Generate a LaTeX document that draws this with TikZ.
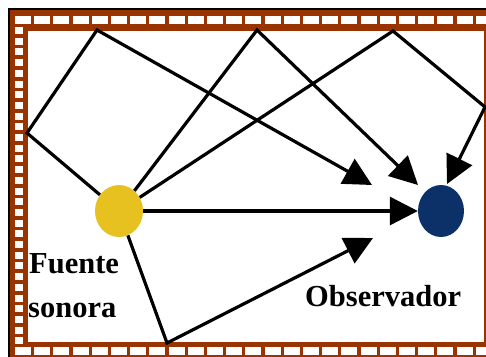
\documentclass[tikz,border=0pt]{standalone}
\usepackage{fontspec}
\setmainfont{Liberation Serif}
\usetikzlibrary{arrows.meta,shapes.geometric}
\definecolor{FrameBrown}{HTML}{993300}
\definecolor{SourceGold}{HTML}{E6C120}
\definecolor{ObsNavy}{HTML}{0B3168}
\tikzset{
  ray/.style={line width=3.2pt, draw=black, line join=miter},
  wave/.style={ray, -{Triangle[length=28pt, width=28pt]}},
  brick/.style={fill=white},
  dot/.style={ellipse, inner sep=0pt, minimum width=48pt, minimum height=52pt},
  lbl/.style={font=\fontsize{30.5}{34}\selectfont\bfseries, inner sep=0pt, anchor=base west}
}

\begin{document}
\begin{tikzpicture}[x=1pt, y=-1pt]
\useasboundingbox (0,0) rectangle (486,356);
\clip (0,0) rectangle (486,356);
\fill[FrameBrown] (10,10) rectangle (500,370);
\draw[line width=2pt] (9,370) -- (9,9) -- (500,9);
\foreach \i in {0,...,25} \fill[brick] ({15+19.2*\i},15.5) rectangle +(16,8);
\foreach \i in {0,...,25} \fill[brick] ({15+19.2*\i},346.5) rectangle +(16,8);
\foreach \j in {0,...,29} \fill[brick] (15,{27+10.7*\j}) rectangle +(8,7);
\fill[white] (28,31) rectangle (484,342);

\node[dot, fill=SourceGold] (fuente) at (119,211) {};
\node[dot, fill=ObsNavy, minimum width=46pt] (observador) at (441,211) {};

\coordinate (lwall) at (27,133);
\coordinate (top1) at (97,30);
\coordinate (top2) at (257,30);
\coordinate (top3) at (393,31);
\coordinate (rwall) at (485,107);
\coordinate (floor) at (167,343);
\coordinate (tipA) at (372,185);
\coordinate (tipB) at (418,185);
\coordinate (tipC) at (447,184);
\coordinate (tipD) at (373,238);

\draw[wave] (fuente) -- (lwall) -- (top1) -- (tipA);
\draw[wave] (fuente) -- (top2) -- (tipB);
\draw[wave] (fuente) -- (top3) -- (rwall) -- (tipC);
\draw[wave] (fuente) -- (observador);
\draw[wave] (fuente) -- (floor) -- (tipD);

\node[lbl] (fuentelbl) at (29,273) {Fuente};
\node[lbl] (sonoralbl) at (28,317) {sonora};
\node[lbl] (obslbl) at (305,306) {Observador};
\end{tikzpicture}
\end{document}
